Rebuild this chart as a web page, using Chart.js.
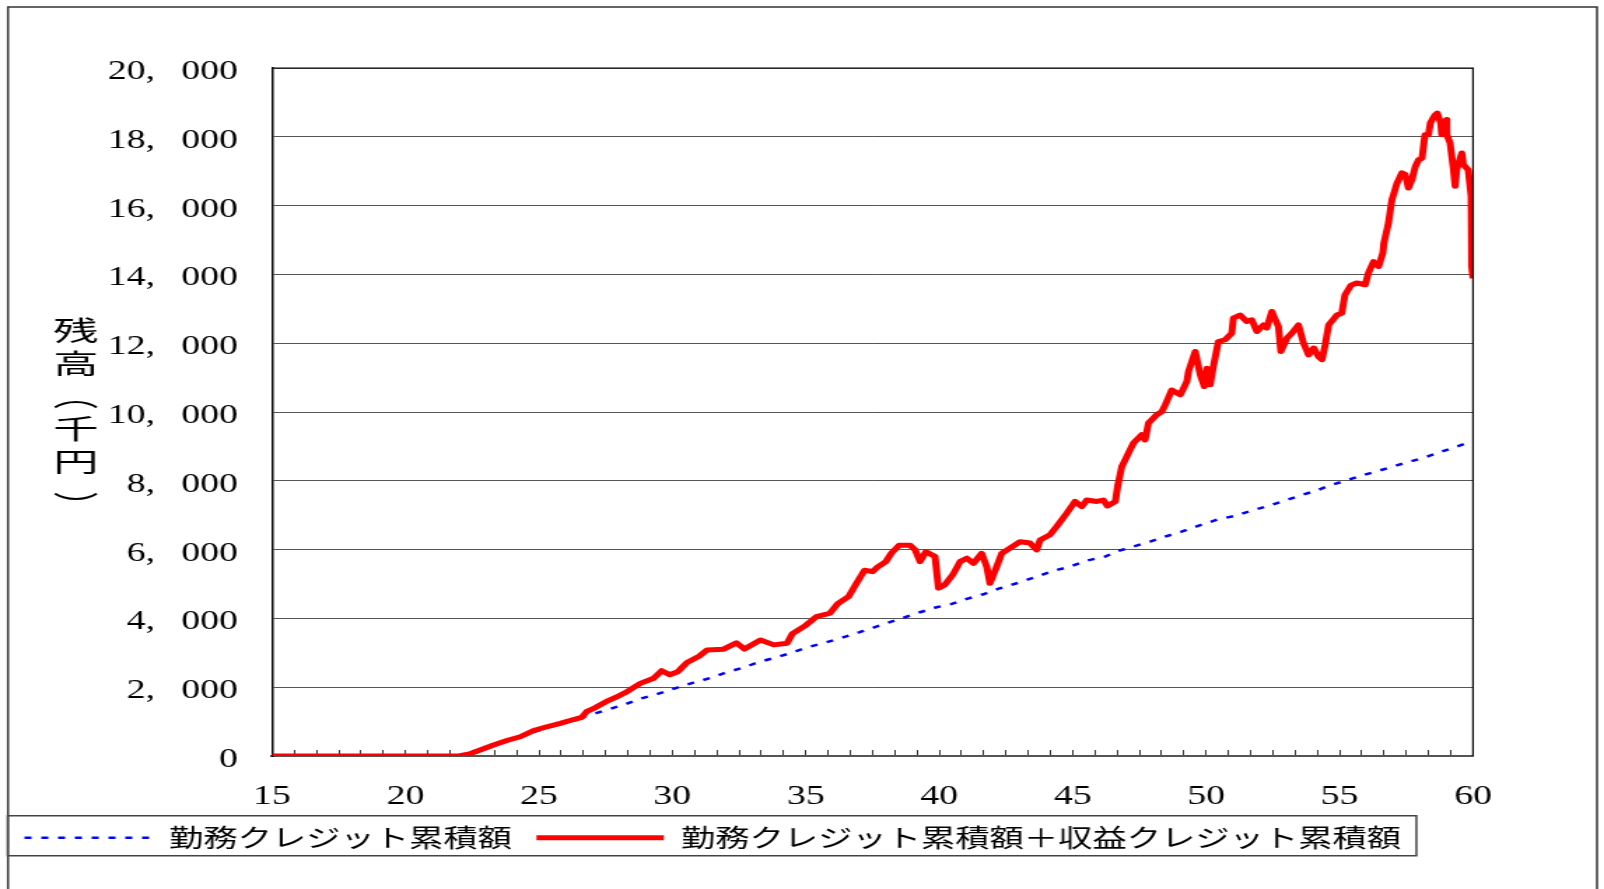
<!DOCTYPE html>
<html>
<head>
<meta charset="utf-8">
<script src="https://cdn.jsdelivr.net/npm/chart.js@4.4.1/dist/chart.umd.min.js"></script>
<style>
  html, body { margin: 0; padding: 0; background: #fff; }
  /* the original picture is stretched sideways, so the canvas is drawn narrow and widened */
  canvas { display: block; width: 1604px !important; height: 889px !important; }
</style>
</head>
<body>
<canvas id="chart" width="1146" height="889"></canvas>
<script>
// horizontal stretch of the page vs. canvas units
const SX = 1604 / 1146;
const u = px => px / SX;

// x axis: age, labelled every 5 years, small tick every 10 months
const xTickLabels = [15, 20, 25, 30, 35, 40, 45, 50, 55, 60];
const xTickStepMonths = 10;
const yTickValues = [0, 2000, 4000, 6000, 8000, 10000, 12000, 14000, 16000, 18000, 20000];

const seriesNames = ['勤務クレジット累積額', '勤務クレジット累積額＋収益クレジット累積額'];
const yTitle = '残高（千円）';

// 勤務クレジット累積額 (blue, dotted)
const blueAges = [
  15, 22.0, 23.3, 24.6, 25.9, 27.04, 27.66, 28.23, 28.85, 29.41,
  30.1, 30.79, 31.47, 32.04, 32.66, 33.22, 33.85, 34.41, 35.03, 35.53,
  36.22, 37.1, 38.09, 38.72, 39.28, 39.9, 40.47, 41.03, 41.65, 42.28,
  42.9, 43.59, 44.27, 44.9, 45.52, 46.21, 46.71, 47.9, 48.46, 49.08,
  49.7, 50.46, 51.08, 51.71, 52.33, 53.02, 53.52, 54.21, 54.58, 55.2,
  55.83, 56.45, 57.2, 58.09, 59.75
];
const blueValues = [
  0, 0, 320, 650, 960, 1221, 1367, 1503, 1677, 1794,
  1968, 2132, 2277, 2434, 2568, 2725, 2859, 2987, 3149, 3257,
  3402, 3620, 3877, 4033, 4179, 4324, 4420, 4566, 4702, 4877,
  5022, 5196, 5380, 5505, 5680, 5796, 5961, 6232, 6377, 6523,
  6688, 6883, 6979, 7134, 7270, 7444, 7570, 7735, 7852, 7997,
  8151, 8288, 8463, 8657, 9090
];

// 勤務クレジット累積額＋収益クレジット累積額 (red)
const redAges = [
  15, 22.0, 22.4, 22.8, 23.3, 23.8, 24.3, 24.8, 25.3, 25.8,
  26.3, 26.6, 26.8, 27.1, 27.6, 28.0, 28.3, 28.8, 29.3, 29.6,
  29.9, 30.2, 30.55, 31.0, 31.3, 31.9, 32.4, 32.7, 33.3, 33.8,
  34.3, 34.5, 35.0, 35.4, 35.9, 36.2, 36.6, 36.9, 37.2, 37.5,
  37.7, 38.0, 38.2, 38.5, 38.9, 39.1, 39.28, 39.5, 39.84, 39.97,
  40.2, 40.5, 40.78, 41.03, 41.28, 41.59, 41.78, 41.9, 42.15, 42.34,
  42.65, 43.03, 43.4, 43.65, 43.78, 44.15, 44.4, 44.78, 45.09, 45.34,
  45.53, 45.9, 46.15, 46.3, 46.6, 46.68, 46.84, 47.27, 47.59, 47.71,
  47.84, 48.15, 48.34, 48.47, 48.71, 49.03, 49.28, 49.34, 49.59, 49.78,
  49.93, 50.03, 50.15, 50.27, 50.46, 50.71, 50.96, 51.02, 51.27, 51.52,
  51.71, 51.9, 52.15, 52.27, 52.46, 52.71, 52.8, 53.03, 53.21, 53.46,
  53.65, 53.84, 54.03, 54.21, 54.34, 54.46, 54.59, 54.9, 55.08, 55.2,
  55.42, 55.64, 55.96, 56.08, 56.27, 56.46, 56.62, 56.66, 56.83, 56.96,
  57.15, 57.33, 57.46, 57.58, 57.71, 57.84, 57.96, 58.09, 58.15, 58.2,
  58.33, 58.4, 58.58, 58.66, 58.79, 58.83, 58.91, 59.01, 59.02, 59.14,
  59.26, 59.33, 59.39, 59.58, 59.64, 59.82, 59.93, 59.95, 60
];
const redValues = [
  0, 0, 60, 175, 320, 450, 560, 740, 850, 950,
  1060, 1120, 1300, 1400, 1610, 1750, 1870, 2110, 2260, 2480,
  2360, 2450, 2720, 2900, 3080, 3100, 3290, 3110, 3370, 3230,
  3280, 3560, 3800, 4050, 4150, 4430, 4630, 5020, 5400, 5360,
  5500, 5650, 5890, 6130, 6130, 5990, 5650, 5940, 5800, 4880,
  4970, 5260, 5650, 5750, 5600, 5890, 5500, 5020, 5500, 5890,
  6040, 6230, 6190, 5990, 6280, 6430, 6670, 7060, 7400, 7250,
  7440, 7400, 7440, 7270, 7400, 7830, 8410, 9090, 9340, 9190,
  9680, 9920, 10010, 10210, 10640, 10500, 10890, 11180, 11760, 11080,
  10740, 11270, 10790, 11320, 12050, 12100, 12290, 12730, 12820, 12630,
  12680, 12340, 12530, 12440, 12920, 12480, 11760, 12150, 12290, 12530,
  12000, 11660, 11860, 11610, 11520, 11950, 12530, 12820, 12870, 13400,
  13680, 13750, 13700, 14040, 14370, 14230, 14620, 14910, 15490, 16170,
  16650, 16950, 16900, 16510, 16750, 17140, 17330, 17380, 17770, 18060,
  18060, 18400, 18640, 18690, 18400, 18060, 18350, 18500, 18060, 17820,
  17090, 16560, 17040, 17530, 17190, 17040, 16270, 14230, 13890
];

const toPoints = (xs, ys) => xs.map((x, i) => ({x: x, y: ys[i]}));

const xMinorTicks = [];
for (let m = 0; m <= (60 - 15) * 12; m += xTickStepMonths) xMinorTicks.push(15 + m / 12);

function fmtThousands(v) {
    return v.toLocaleString('en-US').replace(',', ',\u2002\u2009');
}

const tickFont = { family: '"Liberation Serif", "DejaVu Serif", serif', size: 27 };

// frame, plot border, legend box and the vertical axis title
const decor = {
    id: 'decor',
    afterDraw(chart) {
        const ctx = chart.ctx;
        const area = chart.chartArea;
        ctx.save();

        ctx.strokeStyle = '#333';
        ctx.lineWidth = 1.5;
        ctx.beginPath();
        ctx.moveTo(u(8), 889);
        ctx.lineTo(u(8), 7);
        ctx.lineTo(u(1597), 7);
        ctx.lineTo(u(1597), 889);
        ctx.stroke();

        ctx.strokeStyle = '#000';
        ctx.lineWidth = 1.2;
        ctx.beginPath();
        ctx.moveTo(area.left, area.top);
        ctx.lineTo(area.right, area.top);
        ctx.lineTo(area.right, area.bottom);
        ctx.stroke();

        const hb = chart.legend.legendHitBoxes;
        if (hb && hb.length) {
            const first = hb[0], last = hb[hb.length - 1];
            const cy = first.top + first.height / 2;
            const left = first.left - 12;
            const right = last.left + last.width + 11;
            ctx.strokeStyle = '#444';
            ctx.lineWidth = 1.5;
            ctx.strokeRect(left, cy - 22, right - left, 40);
        }

        ctx.fillStyle = '#000';
        ctx.font = '27px "Noto Sans CJK JP"';
        ctx.textAlign = 'center';
        ctx.textBaseline = 'middle';
        const chars = Array.from(yTitle.replace('（', '︵').replace('）', '︶'));
        chars.forEach((c, i) => {
            ctx.save();
            ctx.translate(u(75.7), 331 + i * 32.6 + (c === '︶' ? 12 : 0));
            ctx.scale(1.2, 1);
            ctx.fillText(c, 0, 0);
            ctx.restore();
        });
        ctx.restore();
    }
};

const ctx = document.getElementById('chart').getContext('2d');
const chart = new Chart(ctx, {
    type: 'line',
    data: {
        datasets: [
            {
                label: seriesNames[0],
                data: toPoints(blueAges, blueValues),
                borderColor: '#0000ff',
                backgroundColor: '#0000ff',
                borderWidth: 2.5,
                borderDash: [5, 7],
                pointRadius: 0,
                tension: 0,
                order: 1
            },
            {
                label: seriesNames[1],
                data: toPoints(redAges, redValues),
                borderColor: '#ff0000',
                backgroundColor: '#ff0000',
                borderWidth: 5,
                borderJoinStyle: 'round',
                pointRadius: 0,
                tension: 0,
                order: 0
            }
        ]
    },
    options: {
        responsive: false,
        animation: false,
        devicePixelRatio: 1,
        layout: { padding: { left: 0, right: 1146 - u(1473), top: 68, bottom: 29 } },
        plugins: {
            legend: {
                position: 'bottom',
                align: 'start',
                labels: {
                    usePointStyle: true,
                    pointStyle: 'line',
                    pointStyleWidth: 91,
                    padding: 17.5,
                    color: '#000',
                    font: { family: '"Noto Sans CJK JP"', size: 24.5 },
                    sort: (a, b) => a.datasetIndex - b.datasetIndex,
                    generateLabels: chart => {
                        const items = Chart.defaults.plugins.legend.labels.generateLabels(chart);
                        items.forEach(it => {
                            it.lineDash = chart.data.datasets[it.datasetIndex].borderDash || [];
                        });
                        return items;
                    }
                }
            },
            tooltip: { enabled: false }
        },
        scales: {
            x: {
                type: 'linear',
                min: 15,
                max: 60,
                afterBuildTicks: s => { s.ticks = xMinorTicks.map(v => ({ value: v })); },
                afterFit: s => { s.height = 52; },
                grid: { drawOnChartArea: false, drawTicks: true, tickLength: -6, color: '#333', lineWidth: 1 },
                border: { color: '#555', width: 2 },
                ticks: {
                    autoSkip: false,
                    maxRotation: 0,
                    padding: 31,
                    color: '#000',
                    font: tickFont,
                    callback: v => xTickLabels.includes(v) ? String(v) : ''
                }
            },
            y: {
                min: 0,
                max: 20000,
                afterBuildTicks: s => { s.ticks = yTickValues.map(v => ({ value: v })); },
                afterFit: s => { s.width = u(272); },
                grid: { color: '#555', lineWidth: 1, drawTicks: false },
                border: { color: '#000', width: 1.5 },
                ticks: {
                    padding: u(34),
                    labelOffset: 4,
                    color: '#000',
                    font: tickFont,
                    callback: v => fmtThousands(v)
                }
            }
        }
    },
    plugins: [decor]
});
</script>
</body>
</html>
